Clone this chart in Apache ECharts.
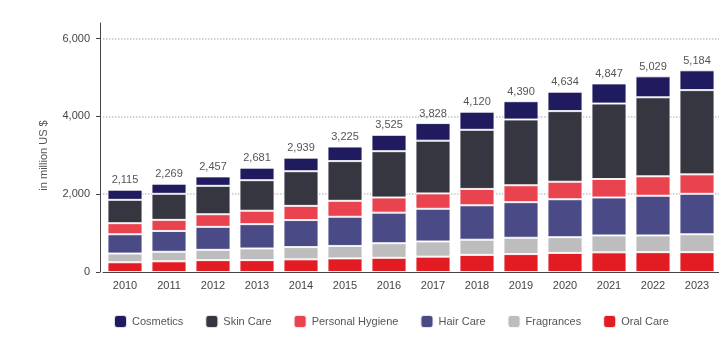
<!DOCTYPE html>
<html>
<head>
<meta charset="utf-8">
<script src="https://cdn.jsdelivr.net/npm/echarts@6/dist/echarts.min.js"></script>
<style>
html,body{margin:0;padding:0;background:#fff;}
#chart{width:719px;height:343px;}
</style>
</head>
<body>
<div id="chart"></div>
<script>
const years = ['2010','2011','2012','2013','2014','2015','2016','2017','2018','2019','2020','2021','2022','2023'];
const oralCare        = [250, 275, 305, 305, 325, 350, 365, 395, 440, 460, 490, 505, 510, 510];
const fragrances      = [225, 245, 265, 300, 315, 320, 375, 390, 390, 420, 405, 435, 430, 460];
const hairCare        = [495, 535, 590, 625, 695, 750, 785, 840, 885, 915, 975, 975, 1020, 1040];
const personalHygiene = [285, 285, 325, 345, 365, 410, 390, 395, 420, 435, 450, 475, 500, 500];
const skinCare        = [600, 670, 730, 785, 890, 1020, 1190, 1355, 1520, 1690, 1815, 1940, 2030, 2165];
const cosmetics       = [260, 259, 242, 321, 349, 375, 420, 453, 465, 470, 499, 517, 539, 509];
const totals          = [2115, 2269, 2457, 2681, 2939, 3225, 3525, 3828, 4120, 4390, 4634, 4847, 5029, 5184];
const yTicks = [0, 2000, 4000, 6000];

const FONT = 'Liberation Sans, Arial, sans-serif';
const fmt = v => String(v).replace(/\B(?=(\d{3})+(?!\d))/g, ',');

const chart = echarts.init(document.getElementById('chart'));
const border = {borderColor: 'rgba(255,255,255,0.85)', borderWidth: 1};
function mk(name, data, color, extra) {
  return Object.assign({
    name, type: 'bar', stack: 'total', data, barWidth: 35,
    itemStyle: Object.assign({color}, border),
    emphasis: {disabled: true}
  }, extra || {});
}
chart.setOption({
  animation: false,
  backgroundColor: '#fff',
  textStyle: {fontFamily: FONT},
  grid: {left: 103, right: -2, top: 23, bottom: 71},
  legend: {
    left: 108, top: 309, icon: 'roundRect', itemWidth: 13, itemHeight: 13, itemGap: 21,
    textStyle: {color: '#555', fontSize: 11, fontFamily: FONT},
    data: ['Cosmetics','Skin Care','Personal Hygiene','Hair Care','Fragrances','Oral Care']
  },
  xAxis: {
    type: 'category', data: years,
    axisLine: {lineStyle: {color: '#444', width: 1}},
    axisTick: {show: false},
    axisLabel: {color: '#444', fontSize: 11, margin: 8, fontFamily: FONT}
  },
  yAxis: {
    type: 'value', min: 0, max: 6400, interval: 2000, offset: 3,
    name: 'in million US $', nameLocation: 'middle', nameGap: 51,
    nameTextStyle: {color: '#555', fontSize: 11, fontFamily: FONT, padding: [0, 16, 0, 0]},
    axisLine: {show: true, lineStyle: {color: '#444'}},
    axisTick: {show: true, length: 4, lineStyle: {color: '#444'}},
    axisLabel: {color: '#444', fontSize: 11, margin: 10, showMaxLabel: false, fontFamily: FONT,
      formatter: v => yTicks.indexOf(v) >= 0 ? fmt(v) : ''},
    splitLine: {show: true, showMinLine: false, showMaxLine: false,
      lineStyle: {color: '#c4c4c4', type: 'dotted', width: 1.5}}
  },
  series: [
    mk('Oral Care', oralCare, '#e31b23'),
    mk('Fragrances', fragrances, '#bdbdbd'),
    mk('Hair Care', hairCare, '#4a4a86'),
    mk('Personal Hygiene', personalHygiene, '#e9434f'),
    mk('Skin Care', skinCare, '#35363f'),
    mk('Cosmetics', cosmetics, '#1f1b5e', {
      label: {show: true, position: 'top', distance: 4, color: '#555', fontSize: 11, fontFamily: FONT,
        formatter: p => fmt(totals[p.dataIndex])}
    })
  ]
});
</script>
</body>
</html>
